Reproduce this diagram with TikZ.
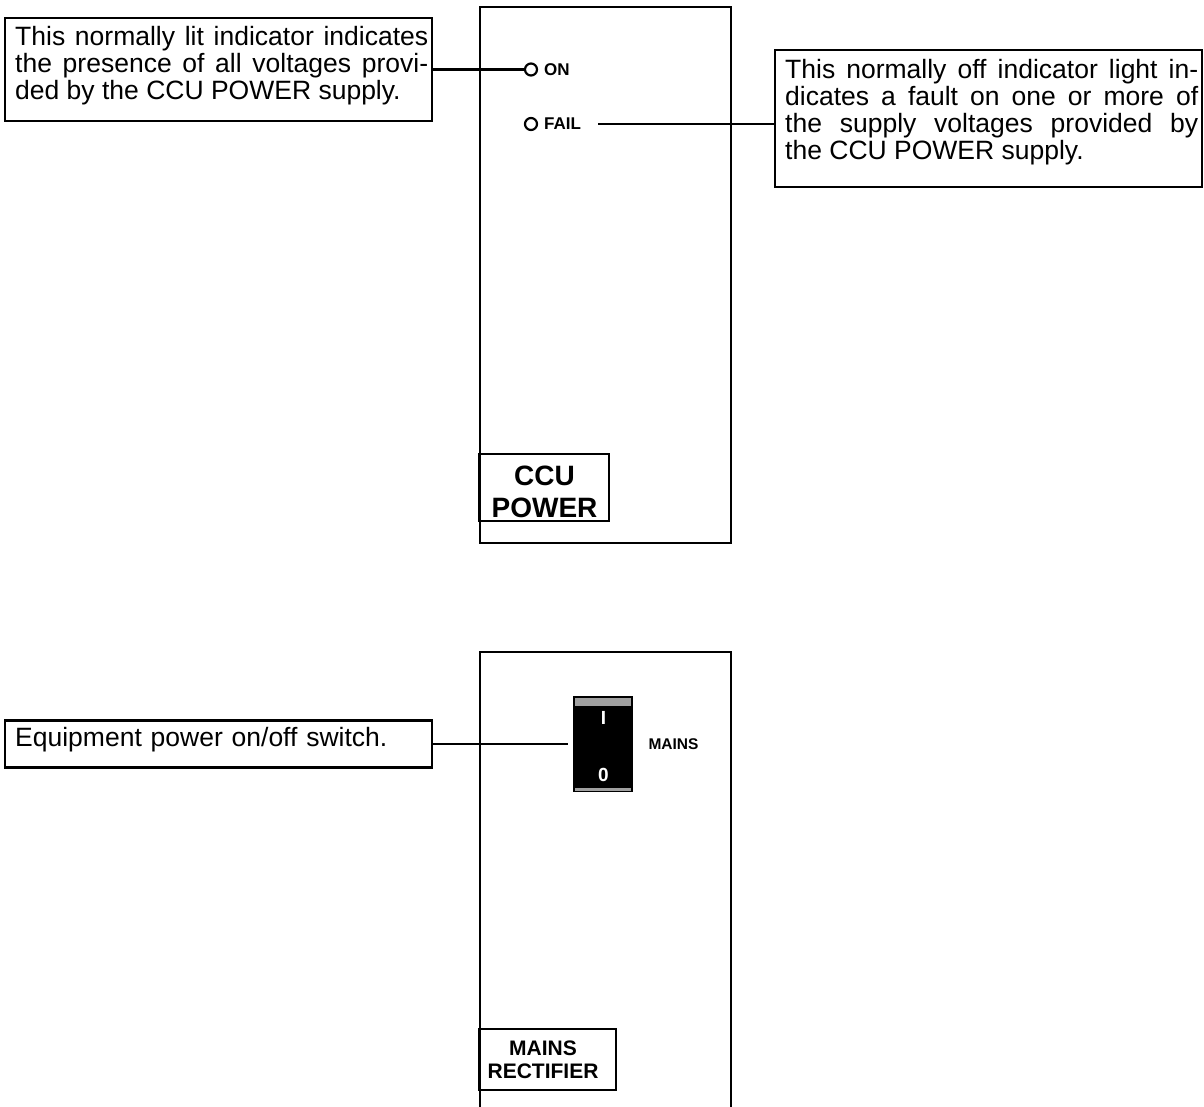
\documentclass[tikz,border=0pt]{standalone}
\usepackage{fontspec}
\setmainfont{Liberation Sans}
\usetikzlibrary{calc}
\definecolor{stripgray}{HTML}{A0A0A0}
\begin{document}
\begin{tikzpicture}[x=1pt,y=-1pt,
  panel/.style={draw, line width=2.8pt, inner sep=0pt},
  lbox/.style={draw, line width=2.4pt, minimum width=427pt, inner sep=0pt},
  ltext/.style={font=\fontsize{26.5}{27}\selectfont, text width=413pt, align=justify, inner sep=0pt, anchor=base west},
  conn/.style={line width=2.4pt},
  led/.style={circle, draw, line width=2.2pt, minimum size=12pt, inner sep=0pt},
  ledtext/.style={font=\fontsize{17}{17}\selectfont\bfseries, anchor=west, inner sep=0pt},
  tag/.style={draw, line width=2.4pt, inner sep=0pt, align=center},
]
\useasboundingbox (0,0) rectangle (1204,1106);

% ---------- CCU POWER panel ----------
\node[panel, minimum width=251pt, minimum height=536pt] (p1) at (605.5,275) {};
\node[tag, minimum width=130pt, minimum height=67pt] (ccutag) at (544,487.5) {};
\node[font=\fontsize{28}{32}\selectfont\bfseries, align=center, inner sep=0pt, anchor=base] (ccutext) at (544.5,517) {CCU\\POWER};

\node[led] (onled) at (531,69.5) {};
\node[ledtext] (ontext) at (544,70) {ON};
\node[led] (failled) at (531,124) {};
\node[ledtext] (failtext) at (544,124) {FAIL};
\coordinate (failend) at (598,124);

% left callout (ON)
\node[lbox, minimum height=103pt] (lb1) at (218.5,69.5) {};
\node[ltext] (lt1) at (15,45) {This normally lit indicator indicates\linebreak the presence of all voltages provi-\linebreak ded by the CCU POWER supply.};
\draw[conn] (lb1.east) -- (onled.west);

% right callout (FAIL)
\node[lbox, minimum height=137pt] (rb) at (988.5,118.5) {};
\node[ltext] (rt) at (785,78) {This normally off indicator light in-\linebreak dicates a fault on one or more of\linebreak the supply voltages provided by\linebreak the CCU POWER supply.};
\draw[conn] (failend) -- (failend -| rb.west);

% ---------- MAINS RECTIFIER panel ----------
\coordinate (p2bl) at (480,1110);
\coordinate (p2tl) at (480,652);
\coordinate (p2tr) at (731,652);
\coordinate (p2br) at (731,1110);
\draw[line width=2.8pt] (p2bl) -- (p2tl) -- (p2tr) -- (p2br);

\node[fill=black, minimum width=60pt, minimum height=96pt, inner sep=0pt] (sw) at (603,744) {};
\fill[stripgray] (575,698) rectangle (631,705.5);
\fill[stripgray] (575,788) rectangle (631,790.5);
\node[font=\fontsize{19}{19}\selectfont\bfseries, text=white, inner sep=0pt] (swI) at (603.5,718) {I};
\node[font=\fontsize{19}{19}\selectfont\bfseries, text=white, inner sep=0pt] (sw0) at (603.5,775) {0};
\node[font=\fontsize{15.5}{15.5}\selectfont\bfseries, inner sep=0pt] (mains) at (673.5,744) {MAINS};

\node[lbox, minimum height=47pt] (lb2) at (218.5,744) {};
\node[ltext, align=left] (lt2) at (15,746) {Equipment power on/off switch.};
\draw[conn, shorten >=5pt] (lb2.east) -- (sw.west);

\node[tag, minimum width=137pt, minimum height=61pt] (mrtag) at (547.5,1059.5) {};
\node[font=\fontsize{21}{23}\selectfont\bfseries, align=center, inner sep=0pt, anchor=base] (mrtext) at (543,1078) {MAINS\\RECTIFIER};
\end{tikzpicture}
\end{document}
